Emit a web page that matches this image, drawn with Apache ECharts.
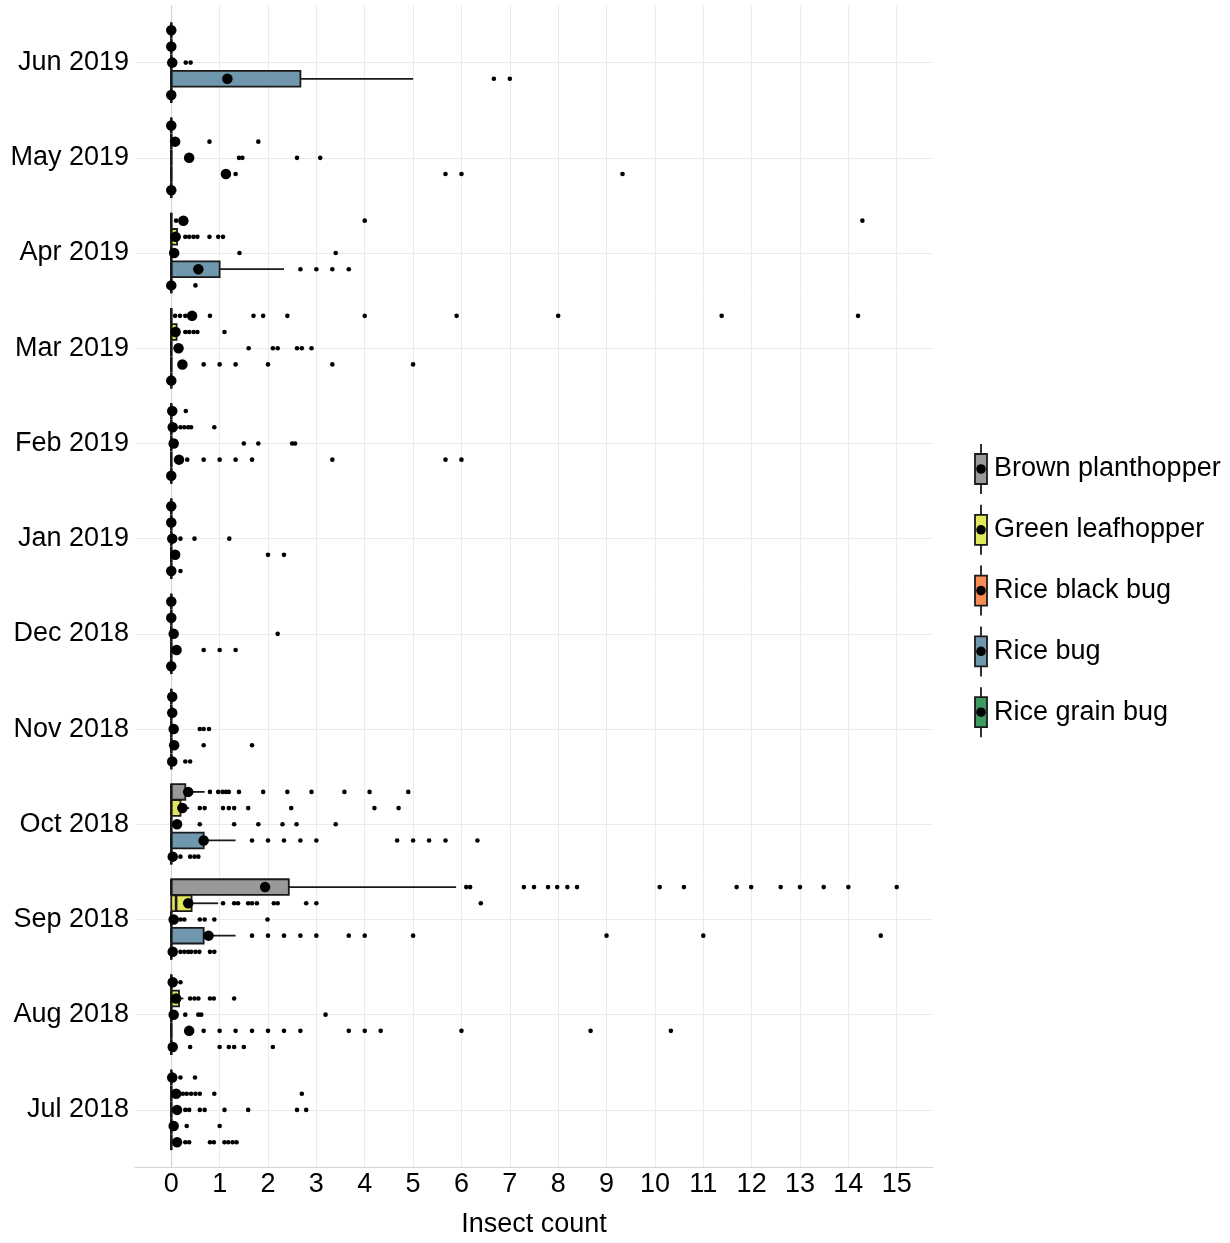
<!DOCTYPE html>
<html><head><meta charset="utf-8">
<script src="https://cdn.jsdelivr.net/npm/echarts@6/dist/echarts.min.js"></script>
<style>html,body{margin:0;padding:0;background:#fff}#c{width:1230px;height:1243px}</style>
</head><body><div id="c"></div><script>
// categories, bottom to top
const months = ['Jul 2018','Aug 2018','Sep 2018','Oct 2018','Nov 2018','Dec 2018','Jan 2019','Feb 2019','Mar 2019','Apr 2019','May 2019','Jun 2019'];
const speciesNames = ['Brown planthopper','Green leafhopper','Rice black bug','Rice bug','Rice grain bug'];
const xTicks = [0,1,2,3,4,5,6,7,8,9,10,11,12,13,14,15];

// box stats per month: [lower whisker, Q1, median, Q3, upper whisker]
const bphBox = [[0,0,0,0,0],[0,0,0,0,0],[0,0,0,2.43,5.89],[0,0,0,0.29,0.69],[0,0,0,0,0],[0,0,0,0,0],[0,0,0,0,0],[0,0,0,0,0],[0,0,0,0,0],[0,0,0,0,0],[0,0,0,0,0],[0,0,0,0,0]];
const glhBox = [[0,0,0,0,0],[0,0,0,0.16,0.25],[0,0,0.1,0.42,0.97],[0,0,0,0.19,0.37],[0,0,0,0,0],[0,0,0,0,0],[0,0,0,0,0],[0,0,0,0,0],[0,0,0,0.11,0.15],[0,0,0,0.12,0.2],[0,0,0,0,0],[0,0,0,0,0]];
const rbbBox = [[0,0,0,0,0],[0,0,0,0,0],[0,0,0,0,0],[0,0,0,0,0],[0,0,0,0,0],[0,0,0,0,0],[0,0,0,0,0],[0,0,0,0,0],[0,0,0,0,0],[0,0,0,0,0],[0,0,0,0,0],[0,0,0,0,0]];
const rbBox  = [[0,0,0,0,0],[0,0,0,0,0],[0,0,0,0.67,1.33],[0,0,0,0.67,1.33],[0,0,0,0,0],[0,0,0,0,0],[0,0,0,0,0],[0,0,0,0,0],[0,0,0,0,0],[0,0,0,1.0,2.33],[0,0,0,0,0],[0,0,0,2.67,5.0]];
const rgbBox = [[0,0,0,0,0],[0,0,0,0,0],[0,0,0,0,0],[0,0,0,0,0],[0,0,0,0,0],[0,0,0,0,0],[0,0,0,0,0],[0,0,0,0,0],[0,0,0,0,0],[0,0,0,0,0],[0,0,0,0,0],[0,0,0,0,0]];

// means per month
const bphMean = [0.02,0.03,1.94,0.35,0.02,0,0,0.02,0.43,0.25,0,0];
const glhMean = [0.1,0.1,0.35,0.23,0.02,0,0,0.03,0.09,0.09,0.08,0];
const rbbMean = [0.12,0.05,0.05,0.12,0.05,0.05,0.02,0.05,0.15,0.06,0.37,0.02];
const rbMean  = [0.05,0.37,0.77,0.67,0.06,0.11,0.08,0.16,0.23,0.56,1.13,1.16];
const rgbMean = [0.12,0.03,0.03,0.03,0.02,0,0,0,0,0,0,0];

// outliers per month
const bphOut = [[0.19,0.49],[0.19],[6.1,6.18,7.29,7.5,7.79,7.98,8.19,8.39,10.1,10.6,11.69,11.99,12.6,13.0,13.49,14.0,15.0],[0.8,0.97,1.06,1.13,1.19,1.4,1.9,2.4,2.9,3.58,4.1,4.9],[],[],[],[0.3],[0.08,0.18,0.29,0.8,1.7,1.9,2.4,4.0,5.9,8.0,11.38,14.2],[0.1,4.0,14.29],[],[]];
const glhOut = [[0.24,0.32,0.41,0.5,0.59,0.89,2.7],[0.39,0.48,0.56,0.8,0.88,1.3],[1.07,1.3,1.38,1.59,1.67,1.77,2.12,2.2,2.79,3.0,6.4],[0.59,0.69,1.07,1.19,1.3,1.59,2.48,4.2,4.7],[],[],[],[0.19,0.27,0.35,0.41,0.89],[0.29,0.37,0.46,0.54,1.1],[0.29,0.37,0.46,0.54,0.79,0.97,1.07],[0.79,1.8],[]];
const rbbOut = [[0.29,0.37,0.59,0.69,1.1,1.59,2.6,2.79],[0.29,0.56,0.62,3.19],[0.19,0.27,0.59,0.69,0.89,1.99],[0.59,1.3,1.8,2.3,2.59,3.4],[0.59,0.67,0.78],[2.2],[0.19,0.48,1.2],[1.5,1.8,2.5,2.56],[1.6,2.1,2.2,2.6,2.7,2.9],[1.41,3.4],[1.4,1.47,2.6,3.08],[0.3,0.4]];
const rbOut  = [[0.32,1.0],[0.67,1.0,1.33,1.67,2.0,2.33,2.67,3.67,4.0,4.33,6.0,8.67,10.33],[1.67,2.0,2.33,2.67,3.0,3.67,4.0,5.0,9.0,11.0,14.67],[1.67,2.0,2.33,2.67,3.0,4.67,5.0,5.33,5.67,6.33],[0.67,1.67],[0.67,1.0,1.33],[2.0,2.33],[0.33,0.67,1.0,1.33,1.67,3.33,5.67,6.0],[0.67,1.0,1.33,2.0,3.33,5.0],[2.67,3.0,3.33,3.67],[1.33,5.67,6.0,9.33],[6.67,7.0]];
const rgbOut = [[0.29,0.37,0.8,0.88,1.1,1.18,1.27,1.35],[0.39,1.0,1.19,1.3,1.5,2.1],[0.19,0.27,0.35,0.41,0.5,0.58,0.8,0.89],[0.19,0.39,0.48,0.56],[0.29,0.39],[],[0.19],[],[],[0.5],[],[]];

const fills = ['#999999','#E1E75A','#F98C52','#6F98AE','#3E9A5F'];
const FONT = "'Liberation Sans', Arial, sans-serif";
const dodge = [0.34, 0.17, 0, -0.17, -0.34];
const boxH = 0.165;
const ELL = 'path://M0,-10A10,10,0,1,1,0,10A10,10,0,1,1,0,-10Z';

const groups = [
  {box: bphBox, mean: bphMean, out: bphOut},
  {box: glhBox, mean: glhMean, out: glhOut},
  {box: rbbBox, mean: rbbMean, out: rbbOut},
  {box: rbBox,  mean: rbMean,  out: rbOut},
  {box: rgbBox, mean: rgbMean, out: rgbOut}
];

const series = [];
groups.forEach((g, k) => {
  const off = dodge[k];
  const fill = fills[k];
  series.push({
    type: 'custom', name: speciesNames[k], z: 2, silent: true,
    data: g.box.map((b, i) => [i, b[0], b[1], b[2], b[3], b[4]]),
    encode: {x: [1, 2, 3, 4, 5], y: 0},
    renderItem: function (params, api) {
      const yv = api.value(0) + 1 + off;
      const pLo = api.coord([api.value(1), yv]);
      const pQ1 = api.coord([api.value(2), yv]);
      const pMd = api.coord([api.value(3), yv]);
      const pQ3 = api.coord([api.value(4), yv]);
      const pHi = api.coord([api.value(5), yv]);
      const h = Math.abs(api.size([0, boxH])[1]);
      const cy = pQ1[1];
      const st = {stroke: '#1a1a1a', lineWidth: 1.8};
      return {type: 'group', children: [
        {type: 'line', shape: {x1: pLo[0], y1: cy, x2: pQ1[0], y2: cy}, style: st},
        {type: 'line', shape: {x1: pQ3[0], y1: cy, x2: pHi[0], y2: cy}, style: st},
        {type: 'rect', shape: {x: pQ1[0], y: cy - h / 2, width: pQ3[0] - pQ1[0], height: h},
          style: {fill: fill, stroke: '#1a1a1a', lineWidth: 1.8}},
        {type: 'line', shape: {x1: pMd[0], y1: cy - h / 2, x2: pMd[0], y2: cy + h / 2},
          style: {stroke: '#1a1a1a', lineWidth: 2.6}}
      ]};
    }
  });
  const outData = [];
  g.out.forEach((arr, i) => arr.forEach(v => outData.push([v, i + 1 + off])));
  series.push({
    type: 'scatter', name: speciesNames[k] + ' outliers', z: 3, silent: true,
    symbol: ELL, symbolSize: 4.6, itemStyle: {color: '#000', opacity: 1},
    data: outData
  });
  series.push({
    type: 'scatter', name: speciesNames[k] + ' mean', z: 4, silent: true,
    symbol: ELL, symbolSize: 10.5, itemStyle: {color: '#000', opacity: 1},
    data: g.mean.map((v, i) => [v, i + 1 + off])
  });
});

// legend drawn as graphic keys + real text
const legendGraphics = [];
speciesNames.forEach((name, k) => {
  const cy = 469 + k * 60.8;
  legendGraphics.push(
    {type: 'line', shape: {x1: 981, y1: cy - 25, x2: 981, y2: cy + 25}, style: {stroke: '#1a1a1a', lineWidth: 1.8}},
    {type: 'rect', shape: {x: 975, y: cy - 15, width: 12, height: 30}, style: {fill: fills[k], stroke: '#1a1a1a', lineWidth: 1.8}},
    {type: 'circle', shape: {cx: 981, cy: cy, r: 4.8}, style: {fill: '#000'}},
    {type: 'text', x: 994, y: cy, style: {text: name, font: "27px " + FONT, fill: '#000', verticalAlign: 'middle', align: 'left'}}
  );
});

const chart = echarts.init(document.getElementById('c'), null, {renderer: 'canvas'});
chart.setOption({
  animation: false,
  backgroundColor: '#fff',
  grid: {left: 135, right: 297, top: 5.5, bottom: 70, containLabel: false},
  xAxis: {
    type: 'value', min: -0.75, max: 15.75,
    name: 'Insect count', nameLocation: 'middle', nameGap: 44,
    nameTextStyle: {fontFamily: FONT, fontSize: 27, color: '#000'},
    axisLine: {show: true, lineStyle: {color: '#d4d4d4', width: 1.2}},
    axisTick: {show: false, customValues: xTicks},
    axisLabel: {customValues: xTicks, fontFamily: FONT, fontSize: 27, color: '#000', margin: 4,
      formatter: v => String(Math.round(v))},
    splitLine: {show: true, lineStyle: {color: '#ebebeb', width: 1}}
  },
  yAxis: {
    type: 'value', min: 0.4, max: 12.6,
    axisLine: {show: true, lineStyle: {color: '#d4d4d4', width: 1.2}},
    axisTick: {show: false, customValues: months.map((m, i) => i + 1)},
    axisLabel: {customValues: months.map((m, i) => i + 1), fontFamily: FONT, fontSize: 27, color: '#000', margin: 6,
      formatter: v => months[Math.round(v) - 1] || ''},
    splitLine: {show: true, lineStyle: {color: '#ebebeb', width: 1}}
  },
  graphic: legendGraphics,
  series: series
});
</script></body></html>
